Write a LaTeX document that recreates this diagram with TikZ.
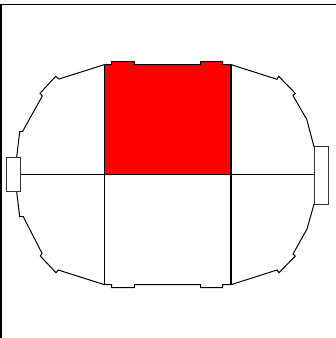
\documentclass[tikz,border=0pt]{standalone}
\tikzset{
  outline/.style={draw=black,line width=1pt,line join=miter},
  divider/.style={draw=black,line width=1.4pt},
  frame/.style={draw=black,line width=1.5pt},
  sidebox/.style={draw=black!80,fill=white,line width=1pt}
}
\begin{document}
\begin{tikzpicture}[x=1pt,y=-1pt]
\useasboundingbox (0,0) rectangle (336,338);
\fill[white] (0,0) rectangle (336,338);
% red sector
\fill[red] (104.5,64.6) -- (111.5,64.6) -- (111.5,61.7) -- (134.3,61.7) -- (134.3,64.6) -- (200.7,64.6) -- (200.7,61.7) -- (222.7,61.7) -- (222.7,64.6) -- (231,64.6) -- (231,174.4) -- (104.5,174.4) -- cycle;
% outer outline
\draw[outline] (16.7,157) -- (19.7,131.7) -- (22.7,131.3) -- (42.3,96) -- (40,93.3) -- (55.7,76.3) -- (59,79) -- (104.5,64.6)
 -- (111.5,64.6) -- (111.5,61.7) -- (134.3,61.7) -- (134.3,64.6) -- (200.7,64.6) -- (200.7,61.7) -- (222.7,61.7) -- (222.7,64.6) -- (231,64.6)
 -- (277,79.3) -- (278.7,76.3) -- (295.3,93.3) -- (293,95.7) -- (306.7,119.3) -- (314,146.7);
\draw[outline] (314,204.3) -- (307,229) -- (293,254) -- (295.3,256) -- (279,272.7) -- (277,270) -- (231,284.7)
 -- (222.7,284.7) -- (222.7,287.5) -- (200.7,287.5) -- (200.7,284.6) -- (134.3,284.6) -- (134.3,287.5) -- (111.5,287.5) -- (111.5,284.7) -- (104.5,284.7)
 -- (58.3,270) -- (56,272.7) -- (40.3,256) -- (42,253.3) -- (23.3,216.7) -- (19.7,216.7) -- (16.7,192);
% side boxes
\draw[sidebox] (6,157.7) -- (20.7,157.7) -- (20.7,191.3) -- (6,191.3) -- cycle;
\draw[sidebox] (314,146.7) -- (328,146.7) -- (328,204.3) -- (314,204.3) -- cycle;
% dividers
\draw[divider] (20.7,174.4) -- (314,174.4);
\draw[divider] (104.5,64.6) -- (104.5,284.7);
\draw[divider] (231,64.6) -- (231,284.7);
% frame
\draw[frame] (1,338) -- (1,4.5);
\draw[frame] (0,4.5) -- (336,4.5);
\end{tikzpicture}
\end{document}
